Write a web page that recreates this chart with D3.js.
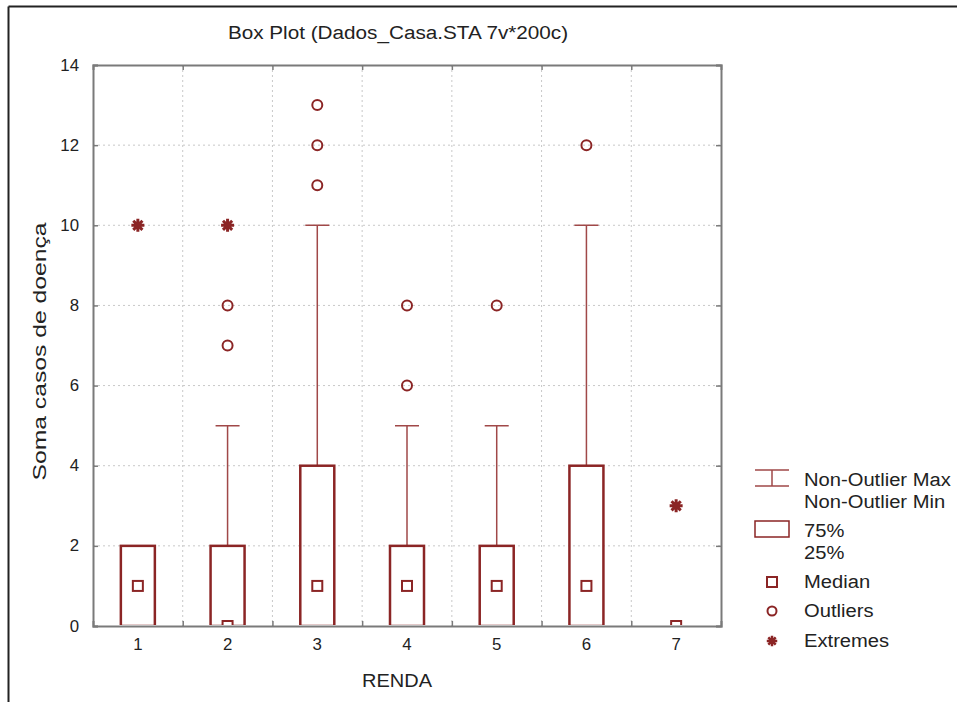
<!DOCTYPE html>
<html>
<head>
<meta charset="utf-8">
<script src="https://cdn.jsdelivr.net/npm/d3@7"></script>
<style>
  body { margin: 0; background: #fff; }
  text { font-family: "Liberation Sans", Arial, sans-serif; fill: #222; }
</style>
</head>
<body>
<svg width="957" height="702"></svg>
<script>
const svg = d3.select('svg');

// data
const categories = ['1', '2', '3', '4', '5', '6', '7'];
const mins = [0, 0, 0, 0, 0, 0, 0];
const q1s = [0, 0, 0, 0, 0, 0, 0];
const medians = [1, 0, 1, 1, 1, 1, 0];
const q3s = [2, 2, 4, 2, 2, 4, 0];
const maxs = [2, 5, 10, 5, 5, 10, 0];
const outliers = [[], [7, 8], [11, 12, 13], [6, 8], [8], [12], []];
const extremes = [[10], [10], [], [], [], [], [3]];
const yTicks = [0, 2, 4, 6, 8, 10, 12, 14];
const legendItems = ['whisker', 'box', 'median', 'outlier', 'extreme'];
const legendLabels = [
  ['Non-Outlier Max', 'Non-Outlier Min'],
  ['75%', '25%'],
  ['Median'],
  ['Outliers'],
  ['Extremes'],
];

const RED = '#8b2525';
const WHISKER = '#a04848';
const AXIS = '#7a7a7a';
const PLOT = { LEFT: 93, RIGHT: 721, TOP: 65, BOTTOM: 626 };

const x = d3.scaleBand().domain(categories).range([PLOT.LEFT, PLOT.RIGHT]);
const y = d3.scaleLinear().domain([0, 14]).range([PLOT.BOTTOM, PLOT.TOP]);
const boxW = 34;
const capW = 24;

// widen text like the original export
function stretch(k) {
  return sel => sel.each(function () {
    const len = this.getComputedTextLength();
    d3.select(this)
      .attr('textLength', len * k)
      .attr('lengthAdjust', 'spacingAndGlyphs');
  });
}

// outer frame
svg.append('line').attr('x1', 8.5).attr('x2', 8.5).attr('y1', 6.5).attr('y2', 702)
  .attr('stroke', '#222').attr('stroke-width', 2);
svg.append('line').attr('x1', 8.5).attr('x2', 957).attr('y1', 6.5).attr('y2', 6.5)
  .attr('stroke', '#222').attr('stroke-width', 2);

// title
svg.append('text')
  .attr('x', 398).attr('y', 39)
  .attr('text-anchor', 'middle')
  .style('font-size', '18px')
  .text('Box Plot (Dados_Casa.STA 7v*200c)')
  .call(stretch(1.15));

// grid
const grid = svg.append('g');
grid.selectAll('.hg')
  .data(yTicks.slice(1, -1))
  .join('line')
  .attr('x1', PLOT.LEFT).attr('x2', PLOT.RIGHT)
  .attr('y1', d => y(d)).attr('y2', d => y(d))
  .attr('stroke', '#c8c8c8').attr('stroke-dasharray', '2,3');
grid.selectAll('.vg')
  .data(categories.slice(1))
  .join('line')
  .attr('x1', d => x(d)).attr('x2', d => x(d))
  .attr('y1', PLOT.TOP).attr('y2', PLOT.BOTTOM)
  .attr('stroke', '#c8c8c8').attr('stroke-dasharray', '2,3');

// axes (ticks pointing inward)
const xEdges = categories.slice(1).map(d => x(d));
const bandTicks = d3.scaleIdentity().domain([PLOT.LEFT, PLOT.RIGHT]);

svg.append('g')
  .attr('transform', `translate(${PLOT.LEFT},0)`)
  .call(d3.axisLeft(y).tickValues(yTicks).tickSize(-5).tickPadding(14))
  .call(g => g.select('.domain').attr('stroke', AXIS).attr('stroke-width', 2))
  .call(g => g.selectAll('.tick line').attr('stroke', AXIS).attr('stroke-width', 1.5))
  .call(g => g.selectAll('.tick text').style('font-size', '16px').attr('fill', '#333')
    .call(stretch(1.05)));

svg.append('g')
  .attr('transform', `translate(${PLOT.RIGHT},0)`)
  .call(d3.axisRight(y).tickValues(yTicks).tickSize(-5).tickFormat(''))
  .call(g => g.select('.domain').attr('stroke', AXIS).attr('stroke-width', 2))
  .call(g => g.selectAll('.tick line').attr('stroke', AXIS).attr('stroke-width', 1.5));

svg.append('g')
  .attr('transform', `translate(0,${PLOT.BOTTOM})`)
  .call(d3.axisBottom(bandTicks).tickValues(xEdges).tickSize(-5).tickFormat(''))
  .call(g => g.select('.domain').attr('stroke', AXIS).attr('stroke-width', 2))
  .call(g => g.selectAll('.tick line').attr('stroke', AXIS).attr('stroke-width', 1.5));

svg.append('g')
  .attr('transform', `translate(0,${PLOT.TOP})`)
  .call(d3.axisTop(bandTicks).tickValues(xEdges).tickSize(-5).tickFormat(''))
  .call(g => g.select('.domain').attr('stroke', AXIS).attr('stroke-width', 2))
  .call(g => g.selectAll('.tick line').attr('stroke', AXIS).attr('stroke-width', 1.5));

// category labels
svg.append('g')
  .attr('transform', `translate(0,${PLOT.BOTTOM})`)
  .call(d3.axisBottom(x).tickSize(0).tickPadding(13))
  .call(g => g.select('.domain').remove())
  .call(g => g.selectAll('.tick text').style('font-size', '16px').attr('fill', '#333')
    .call(stretch(1.05)));

// axis titles
svg.append('text')
  .attr('x', 397).attr('y', 687)
  .attr('text-anchor', 'middle')
  .style('font-size', '18.5px')
  .text('RENDA')
  .call(stretch(1.08));

svg.append('text')
  .attr('transform', `translate(46,${(PLOT.TOP + PLOT.BOTTOM) / 2 + 6}) rotate(-90)`)
  .attr('text-anchor', 'middle')
  .style('font-size', '19px')
  .text('Soma casos de doença')
  .call(stretch(1.3));

// clip marks to plot area
svg.append('clipPath').attr('id', 'plot-clip')
  .append('rect')
  .attr('x', PLOT.LEFT).attr('y', PLOT.TOP)
  .attr('width', PLOT.RIGHT - PLOT.LEFT).attr('height', PLOT.BOTTOM - PLOT.TOP - 1);

const stats = categories.map((c, i) => ({
  c, min: mins[i], q1: q1s[i], med: medians[i], q3: q3s[i], max: maxs[i],
  out: outliers[i], ext: extremes[i],
}));

const marks = svg.append('g').attr('clip-path', 'url(#plot-clip)');
const cx = d => x(d.c) + x.bandwidth() / 2;

// whiskers
marks.selectAll('.wh')
  .data(stats)
  .join('path')
  .attr('fill', 'none')
  .attr('stroke', WHISKER)
  .attr('stroke-width', 1.5)
  .attr('d', d => {
    const p = d3.path();
    p.moveTo(cx(d), y(d.q3)); p.lineTo(cx(d), y(d.max));
    p.moveTo(cx(d) - capW / 2, y(d.max)); p.lineTo(cx(d) + capW / 2, y(d.max));
    p.moveTo(cx(d), y(d.q1)); p.lineTo(cx(d), y(d.min));
    p.moveTo(cx(d) - capW / 2, y(d.min)); p.lineTo(cx(d) + capW / 2, y(d.min));
    return p.toString();
  });

// boxes
marks.selectAll('.box')
  .data(stats)
  .join('rect')
  .attr('x', d => cx(d) - boxW / 2)
  .attr('width', boxW)
  .attr('y', d => y(d.q3))
  .attr('height', d => y(d.q1) - y(d.q3))
  .attr('fill', 'none')
  .attr('stroke', d => (d.q3 === d.q1 ? WHISKER : RED))
  .attr('stroke-width', d => (d.q3 === d.q1 ? 1.5 : 2.5));

// medians
marks.selectAll('.med')
  .data(stats)
  .join('rect')
  .attr('x', d => cx(d) - 5)
  .attr('y', d => y(d.med) - 5)
  .attr('width', 10).attr('height', 10)
  .attr('fill', '#fff')
  .attr('stroke', RED).attr('stroke-width', 2);

// outliers
const outPts = stats.flatMap(d => d.out.map(v => ({ c: d.c, v })));
marks.selectAll('.out')
  .data(outPts)
  .join('circle')
  .attr('cx', cx)
  .attr('cy', d => y(d.v))
  .attr('r', 5)
  .attr('fill', 'none')
  .attr('stroke', RED).attr('stroke-width', 2);

// extremes: eight-armed asterisk
const asterisk = {
  draw(ctx, size) {
    const r = Math.sqrt(size) / 2;
    const k = r * Math.SQRT1_2;
    ctx.moveTo(-r, 0); ctx.lineTo(r, 0);
    ctx.moveTo(0, -r); ctx.lineTo(0, r);
    ctx.moveTo(-k, -k); ctx.lineTo(k, k);
    ctx.moveTo(-k, k); ctx.lineTo(k, -k);
  },
};
const extPts = stats.flatMap(d => d.ext.map(v => ({ c: d.c, v })));
marks.selectAll('.ext')
  .data(extPts)
  .join('path')
  .attr('transform', d => `translate(${cx(d)},${y(d.v)})`)
  .attr('d', d3.symbol(asterisk, 169))
  .attr('fill', 'none')
  .attr('stroke', RED).attr('stroke-width', 3);

// legend
const LEG = { X: 772, TEXT: 804 };
const legendY = [478, 529, 582, 611, 641];
const leg = svg.append('g');
legendItems.forEach((item, i) => {
  const cy = legendY[i];
  if (item === 'whisker') {
    const p = d3.path();
    p.moveTo(LEG.X - 17, cy - 8); p.lineTo(LEG.X + 17, cy - 8);
    p.moveTo(LEG.X - 17, cy + 8); p.lineTo(LEG.X + 17, cy + 8);
    p.moveTo(LEG.X, cy - 8); p.lineTo(LEG.X, cy + 8);
    leg.append('path').attr('d', p.toString())
      .attr('fill', 'none').attr('stroke', WHISKER).attr('stroke-width', 1.5);
  } else if (item === 'box') {
    leg.append('rect')
      .attr('x', LEG.X - 17).attr('y', cy - 8).attr('width', 34).attr('height', 16)
      .attr('fill', 'none').attr('stroke', RED).attr('stroke-width', 1.5);
  } else if (item === 'median') {
    leg.append('rect')
      .attr('x', LEG.X - 5).attr('y', cy - 5).attr('width', 10).attr('height', 10)
      .attr('fill', 'none').attr('stroke', RED).attr('stroke-width', 2);
  } else if (item === 'outlier') {
    leg.append('circle').attr('cx', LEG.X).attr('cy', cy).attr('r', 4.5)
      .attr('fill', 'none').attr('stroke', RED).attr('stroke-width', 2);
  } else {
    leg.append('path')
      .attr('transform', `translate(${LEG.X},${cy})`)
      .attr('d', d3.symbol(asterisk, 110))
      .attr('fill', 'none').attr('stroke', RED).attr('stroke-width', 2.5);
  }
  const lines = legendLabels[i];
  lines.forEach((t, j) => {
    leg.append('text')
      .attr('x', LEG.TEXT)
      .attr('y', lines.length === 2 ? cy + 8 + j * 22 : cy + 6)
      .style('font-size', '18px')
      .text(t)
      .call(stretch(1.12));
  });
});
</script>
</body>
</html>
